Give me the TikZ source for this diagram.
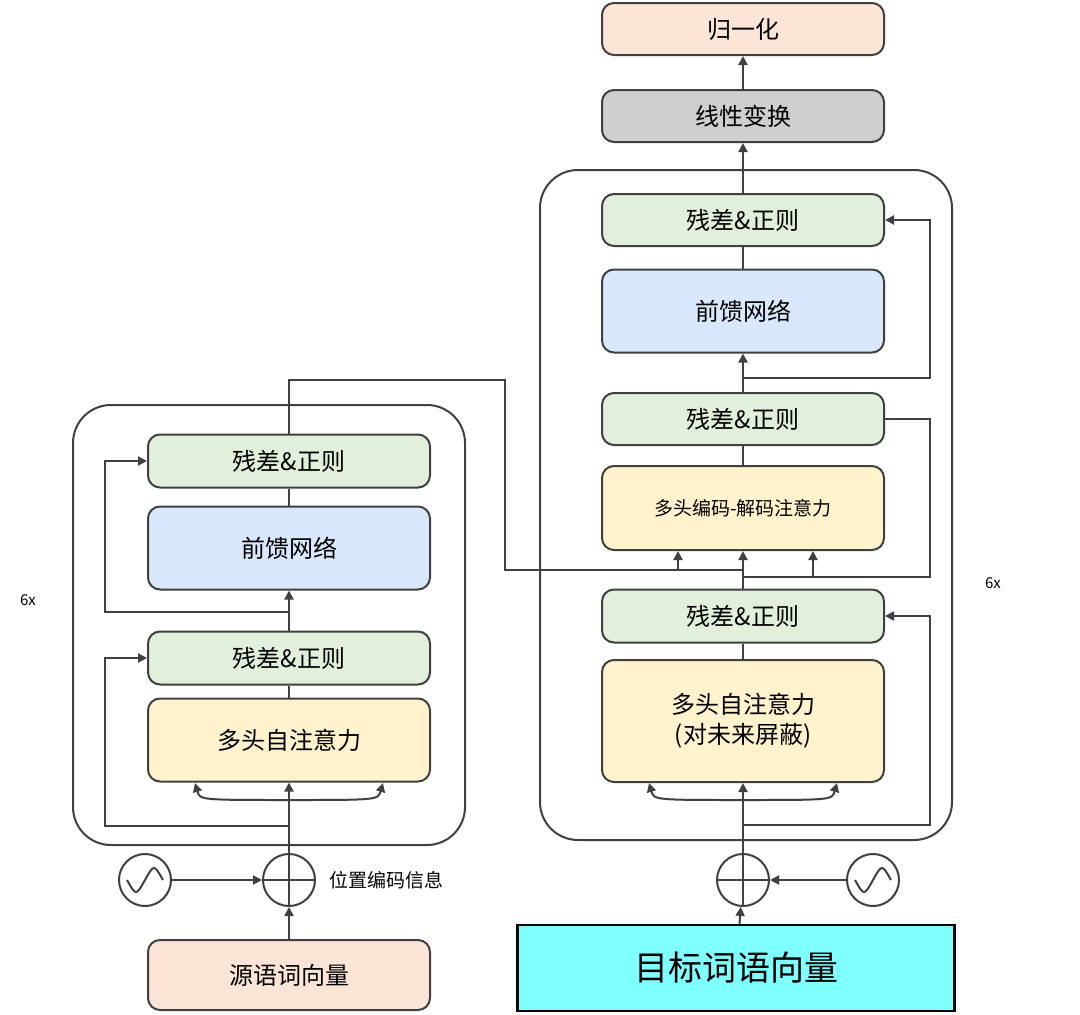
\documentclass[tikz,border=0pt]{standalone}
\usepackage{fontspec}
\setmainfont{Noto Sans CJK SC}
\usetikzlibrary{arrows.meta,positioning}
\definecolor{lgreen}{HTML}{E2EFDA}
\definecolor{lblue}{HTML}{DAE8FC}
\definecolor{lyellow}{HTML}{FFF2CC}
\definecolor{lpeach}{HTML}{FBE5D6}
\definecolor{lgray}{HTML}{D0CECE}
\definecolor{lcyan}{HTML}{80FFFF}
\definecolor{dline}{HTML}{404040}
\begin{document}
\begin{tikzpicture}[x=1pt,y=-1pt]
  \tikzset{block/.style={rectangle, draw=dline, line width=2pt, rounded corners=12pt,
      minimum width=282pt, text centered, font=\fontsize{24}{30}\selectfont},
    outer/.style={draw=dline, line width=2pt, rounded corners=38pt},
    circ/.style={circle, draw=dline, line width=2pt, minimum size=52pt, inner sep=0pt},
    line/.style={draw=dline, line width=2pt},
    arr/.style={line, -{Triangle[length=9pt,width=9pt]}}}
\useasboundingbox (0,0) rectangle (1080,1015);
\draw [outer] (73,405) rectangle (465,845);
\draw [outer] (540,170) rectangle (952,840);
% encoder
\node [block, fill=lgreen, minimum height=53pt] (er2) at (289,461) {残差\&正则};
\node [block, fill=lblue, minimum height=83pt] (eff) at (289,548) {前馈网络};
\node [block, fill=lgreen, minimum height=53pt] (er1) at (289,658) {残差\&正则};
\node [block, fill=lyellow, minimum height=83pt] (eatt) at (289,740) {多头自注意力};
\node [circ] (esum) at (289,880) {};
\node [circ] (esin) at (145,880) {};
\node [right=10pt of esum, font=\fontsize{19}{22}\selectfont] (epos) {位置编码信息};
\node [block, fill=lpeach, minimum height=70pt] (ein) at (289,975) {源语词向量};
% decoder
\node [block, fill=lpeach, minimum height=52pt] (dnorm) at (743,29) {归一化};
\node [block, fill=lgray, minimum height=52pt] (dlin) at (743,116) {线性变换};
\node [block, fill=lgreen, minimum height=52pt] (dr3) at (743,220) {残差\&正则};
\node [block, fill=lblue, minimum height=83pt] (dff) at (743,311) {前馈网络};
\node [block, fill=lgreen, minimum height=52pt] (dr2) at (743,419) {残差\&正则};
\node [block, fill=lyellow, minimum height=84pt, font=\fontsize{19}{24}\selectfont] (dcross) at (743,508) {多头编码-解码注意力};
\node [block, fill=lgreen, minimum height=53pt] (dr1) at (743,616) {残差\&正则};
\node [block, fill=lyellow, minimum height=122pt, align=center] (datt) at (743,721) {多头自注意力\\(对未来屏蔽)};
\node [circ] (dsum) at (743,880) {};
\node [circ] (dsin) at (873,880) {};
\node [rectangle, draw=black, line width=2.5pt, fill=lcyan, minimum width=437pt, minimum height=86pt,
  font=\fontsize{34}{40}\selectfont] (din) at (736,968) {目标词语向量};
\node [font=\itshape\fontsize{15}{18}\selectfont] (n1) at (28,600) {6x};
\node [font=\itshape\fontsize{15}{18}\selectfont] (n2) at (993,583) {6x};
% sum and sine symbols
\draw [line] (esum.north) -- (esum.south) (esum.west) -- (esum.east);
\draw [line] (dsum.north) -- (dsum.south) (dsum.west) -- (dsum.east);
\draw [line] ([xshift=-18pt]esin.center) .. controls ([xshift=-9pt,yshift=-16pt]esin.center) .. (esin.center)
  .. controls ([xshift=9pt,yshift=16pt]esin.center) .. ([xshift=18pt]esin.center);
\draw [line] ([xshift=-18pt]dsin.center) .. controls ([xshift=-9pt,yshift=-16pt]dsin.center) .. (dsin.center)
  .. controls ([xshift=9pt,yshift=16pt]dsin.center) .. ([xshift=18pt]dsin.center);
% encoder connections
\draw [arr] (ein) -- (esum);
\draw [arr] (esin) -- (esum);
\draw [arr] (esum) -- (eatt);
\draw [line] (eatt) -- (er1);
\draw [arr] (er1) -- (eff);
\draw [line] (eff) -- (er2);
\draw [arr] (289,800) .. controls (200,800) .. (195,783);
\draw [arr] (289,800) .. controls (378,800) .. (383,783);
\draw [arr] (289,826) -- (105,826) |- (er1.west);
\draw [arr] (289,612) -- (105,612) |- (er2.west);
\draw [line] (er2.north) -- (289,380) -- (505,380) -- (505,570) -- (743,570);
\coordinate (c1) at (678,570);
\draw [arr] (c1) -- (c1 |- dcross.south);
% decoder connections
\draw [arr] (din) -- (dsum);
\draw [arr] (dsin) -- (dsum);
\draw [arr] (dsum) -- (datt);
\draw [line] (datt) -- (dr1);
\draw [arr] (743,800) .. controls (654,800) .. (649,783);
\draw [arr] (743,800) .. controls (832,800) .. (837,783);
\draw [arr] (743,825) -- (930,825) |- (dr1.east);
\draw [arr] (dr1.north) -- (dcross.south);
\draw [line] (dr1.north) |- (930,577) |- (dr2.east);
\coordinate (c2) at (813,577);
\draw [arr] (c2) -- (c2 |- dcross.south);
\draw [line] (dcross) -- (dr2);
\draw [arr] (dr2) -- (dff);
\draw [line] (dff) -- (dr3);
\draw [arr] (743,378) -- (930,378) |- (dr3.east);
\draw [arr] (dr3) -- (dlin);
\draw [arr] (dlin) -- (dnorm);
\end{tikzpicture}
\end{document}
